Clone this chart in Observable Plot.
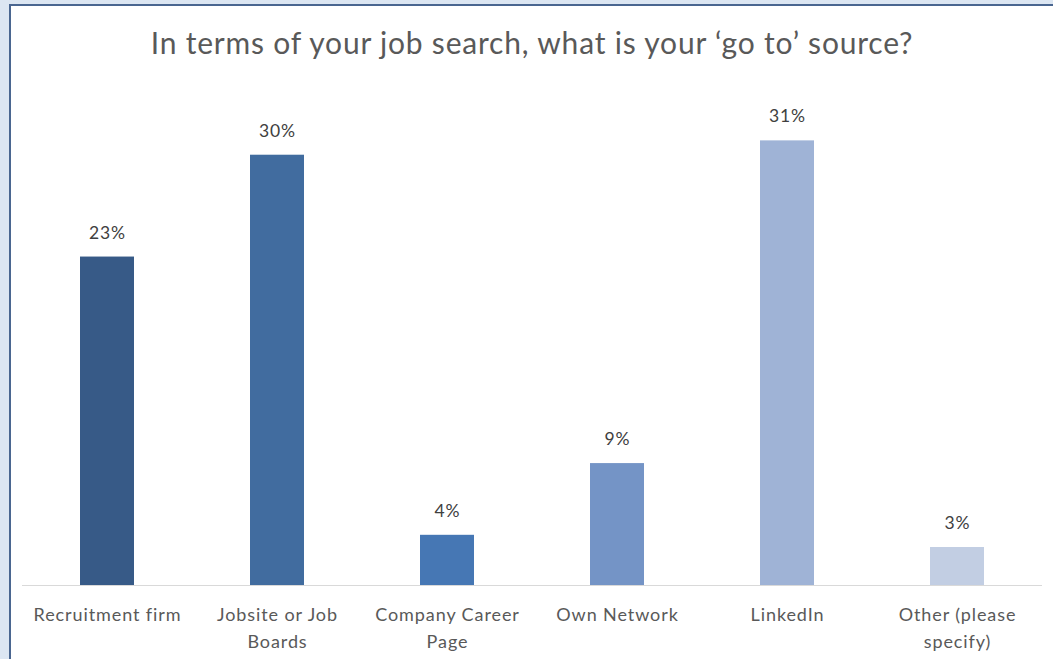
<!DOCTYPE html>
<html>
<head>
<meta charset="utf-8">
<script src="https://cdn.jsdelivr.net/npm/d3@7"></script>
<script src="https://cdn.jsdelivr.net/npm/@observablehq/plot@0.6"></script>
<style>
  html, body { margin: 0; padding: 0; }
  body { width: 1053px; height: 659px; background: #dce6f2; overflow: hidden; position: relative; font-family: Lato, sans-serif; }
  #frame { position: absolute; left: 9px; top: 4px; width: 1044px; height: 655px; background: #fff;
           border-left: 2px solid #4a6690; border-top: 2px solid #4a6690; box-sizing: border-box; }
  #title { position: absolute; left: 0; top: 0; width: 1042px; height: 72px; text-align: center;
           font-size: 30px; letter-spacing: 0.8px; line-height: 72px; color: #595959; }
  #chart { position: absolute; left: 0; top: 74px; }
  #chart svg text { letter-spacing: 0.9px; }
</style>
</head>
<body>
<div id="frame">
  <div id="title">In terms of your job search, what is your ‘go to’ source?</div>
  <div id="chart"></div>
</div>
<script>
const categories = ["Recruitment firm", "Jobsite or Job Boards", "Company Career Page", "Own Network", "LinkedIn", "Other (please specify)"];
const tickLabels = ["Recruitment firm", "Jobsite or Job\nBoards", "Company Career\nPage", "Own Network", "LinkedIn", "Other (please\nspecify)"];
const values = [22.9, 30.0, 3.5, 8.5, 31.0, 2.65];
const valueLabels = ["23%", "30%", "4%", "9%", "31%", "3%"];
const colors = ["#375a87", "#416c9f", "#4677b4", "#7494c6", "#9fb3d6", "#c2cee3"];

const data = categories.map((c, i) => ({category: c, value: values[i], label: valueLabels[i], color: colors[i], tick: tickLabels[i]}));
const tickMap = new Map(data.map(d => [d.category, d.tick]));

const chart = Plot.plot({
  width: 1042,
  height: 579,
  marginLeft: 11,
  marginRight: 11,
  marginTop: 3,
  marginBottom: 74,
  style: {fontFamily: "Lato, sans-serif", background: "transparent"},
  x: {domain: categories, paddingInner: 0.68, paddingOuter: 0.34, label: null},
  y: {domain: [0, 35], axis: null},
  marks: [
    Plot.barY(data, {x: "category", y: "value", fill: "color"}),
    Plot.ruleY([0], {stroke: "#d9d9d9", strokeWidth: 1}),
    Plot.text(data, {x: "category", y: "value", text: "label", dy: -24, fontSize: 17.5, fill: "#404040"}),
    Plot.axisX({tickSize: 0, tickPadding: 16, fontSize: 18, lineHeight: 1.5, fill: "#595959",
                tickFormat: d => tickMap.get(d), label: null, textAnchor: "middle"})
  ]
});
document.getElementById("chart").appendChild(chart);
</script>
</body>
</html>
